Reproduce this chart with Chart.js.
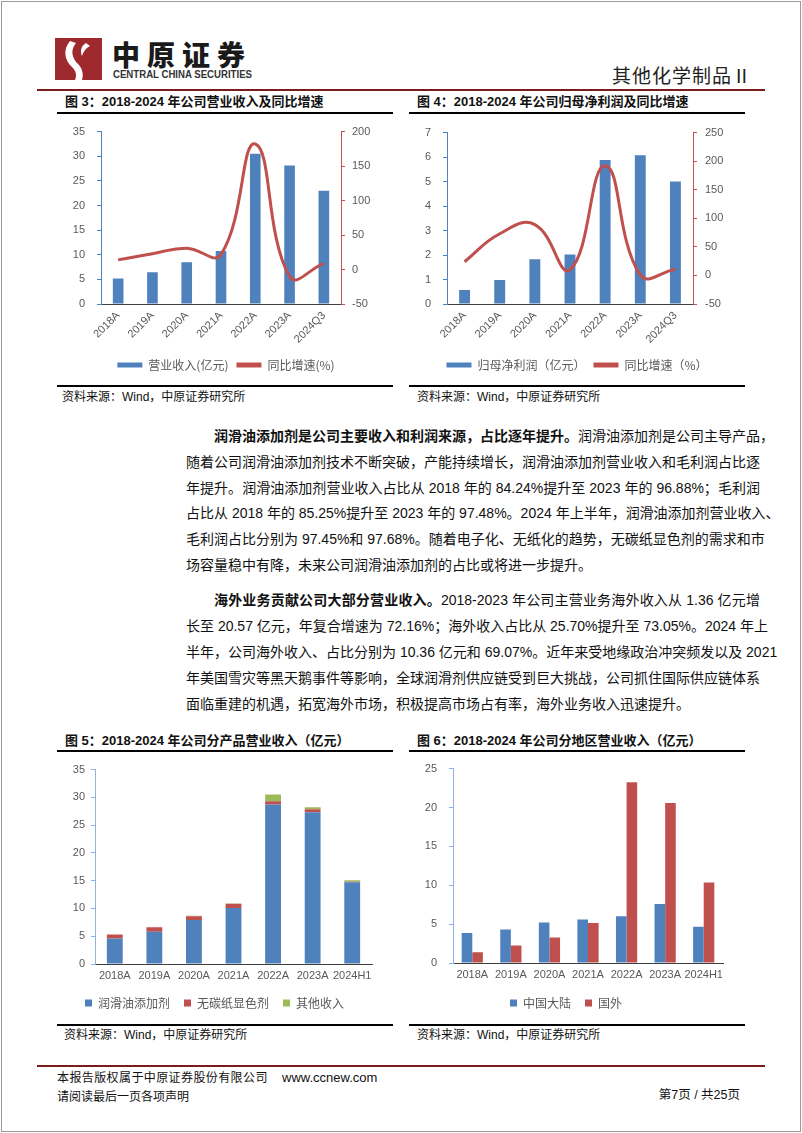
<!DOCTYPE html>
<html>
<head>
<meta charset="utf-8">
<script src="https://cdn.jsdelivr.net/npm/chart.js@4.4.1/dist/chart.umd.min.js"></script>
<style>
  body { margin: 0; background: #fff; }
  #page { position: relative; width: 802px; height: 1133px; overflow: hidden;
          font-family: "Liberation Sans", "Noto Sans CJK SC", sans-serif; color: #111; }
  .abs { position: absolute; white-space: nowrap; }
  .frame { position: absolute; left: 1px; top: 1px; width: 798px; height: 1129px; border: 1px solid #9a9a9a; }
  .title { position: absolute; font-weight: 700; font-size: 13px; line-height: 16px; white-space: nowrap; }
  .rule { position: absolute; height: 2px; background: #000; }
  .thin { position: absolute; height: 2px; background: #000; }
  .src { position: absolute; font-size: 12px; line-height: 14px; white-space: nowrap; color: #111; }
  .ln { position: absolute; left: 186px; width: 574px; font-size: 14px; line-height: 26px; height: 26px;
        white-space: nowrap; text-align: justify; text-align-last: justify; }
  .ln.first { left: 214px; width: 546px; }
  .ln.last { text-align: left; text-align-last: left; }
  .ln b { font-weight: 700; }
  canvas { position: absolute; }
</style>
</head>
<body>
<div id="page">
  <div class="frame"></div>

  <!-- header -->
  <svg class="abs" style="left:55px;top:38px" width="47" height="42">
    <rect width="47" height="42" fill="#9F2A2E"/>
    <path d="M15 3 C 8 11, 9 22, 17 29 C 21 33, 22 37, 20 42 L 27 42 C 29 36, 27 30, 23 26 C 17 20, 15 12, 21 5 Z" fill="#fff"/>
    <path d="M31 5 C 26 8, 25 13, 27 18 C 28 14, 31 10, 35 8 Z" fill="#fff"/>
  </svg>
  <div class="abs" style="left:112px;top:37px;font-family:'Noto Sans CJK SC';font-weight:900;font-size:28px;line-height:34px;letter-spacing:7px;color:#1a1a1a">中原证券</div>
  <svg class="abs" style="left:113px;top:68px" width="140" height="12">
    <text x="0" y="10" textLength="139" lengthAdjust="spacingAndGlyphs"
          font-family="Liberation Sans" font-weight="700" font-size="10" fill="#333">CENTRAL CHINA SECURITIES</text>
  </svg>
  <div class="abs" style="right:50px;top:62px;font-family:'Noto Sans CJK SC';font-size:19px;line-height:26px;letter-spacing:1px;color:#222">其他化学制品Ⅱ</div>
  <div class="abs" style="left:37px;top:89px;width:728px;height:2px;background:#7B1C1C"></div>

  <!-- top charts -->
  <div class="title" style="left:65px;top:94px">图 3：2018-2024 年公司营业收入及同比增速</div>
  <div class="rule" style="left:57px;top:112px;width:336px"></div>
  <canvas id="c3" width="338" height="268" style="left:57px;top:113px"></canvas>
  <div class="thin" style="left:57px;top:385px;width:336px"></div>
  <div class="src" style="left:62px;top:390px">资料来源：Wind，中原证券研究所</div>

  <div class="title" style="left:417px;top:94px">图 4：2018-2024 年公司归母净利润及同比增速</div>
  <div class="rule" style="left:409px;top:112px;width:336px"></div>
  <canvas id="c4" width="336" height="267" style="left:409px;top:114px"></canvas>
  <div class="thin" style="left:409px;top:385px;width:336px"></div>
  <div class="src" style="left:417px;top:390px">资料来源：Wind，中原证券研究所</div>

  <!-- body text -->
  <div class="ln first" style="top:423px"><b>润滑油添加剂是公司主要收入和利润来源，占比逐年提升。</b>润滑油添加剂是公司主导产品，</div>
  <div class="ln" style="top:449px">随着公司润滑油添加剂技术不断突破，产能持续增长，润滑油添加剂营业收入和毛利润占比逐</div>
  <div class="ln" style="top:475px">年提升。润滑油添加剂营业收入占比从 2018 年的 84.24%提升至 2023 年的 96.88%；毛利润</div>
  <div class="ln" style="top:500px">占比从 2018 年的 85.25%提升至 2023 年的 97.48%。2024 年上半年，润滑油添加剂营业收入、</div>
  <div class="ln" style="top:526px">毛利润占比分别为 97.45%和 97.68%。随着电子化、无纸化的趋势，无碳纸显色剂的需求和市</div>
  <div class="ln last" style="top:552px">场容量稳中有降，未来公司润滑油添加剂的占比或将进一步提升。</div>

  <div class="ln first" style="top:587px"><b>海外业务贡献公司大部分营业收入。</b>2018-2023 年公司主营业务海外收入从 1.36 亿元增</div>
  <div class="ln" style="top:613px">长至 20.57 亿元，年复合增速为 72.16%；海外收入占比从 25.70%提升至 73.05%。2024 年上</div>
  <div class="ln" style="top:639px">半年，公司海外收入、占比分别为 10.36 亿元和 69.07%。近年来受地缘政治冲突频发以及 2021</div>
  <div class="ln" style="top:665px">年美国雪灾等黑天鹅事件等影响，全球润滑剂供应链受到巨大挑战，公司抓住国际供应链体系</div>
  <div class="ln last" style="top:691px">面临重建的机遇，拓宽海外市场，积极提高市场占有率，海外业务收入迅速提升。</div>

  <!-- bottom charts -->
  <div class="title" style="left:65px;top:733px">图 5：2018-2024 年公司分产品营业收入（亿元）</div>
  <div class="rule" style="left:57px;top:750px;width:336px"></div>
  <canvas id="c5" width="338" height="262" style="left:57px;top:757px"></canvas>
  <div class="thin" style="left:57px;top:1024px;width:336px"></div>
  <div class="src" style="left:64px;top:1028px">资料来源：Wind，中原证券研究所</div>

  <div class="title" style="left:417px;top:733px">图 6：2018-2024 年公司分地区营业收入（亿元）</div>
  <div class="rule" style="left:409px;top:750px;width:336px"></div>
  <canvas id="c6" width="336" height="269" style="left:409px;top:750px"></canvas>
  <div class="thin" style="left:409px;top:1024px;width:336px"></div>
  <div class="src" style="left:417px;top:1028px">资料来源：Wind，中原证券研究所</div>

  <!-- footer -->
  <div class="abs" style="left:37px;top:1065px;width:728px;height:2px;background:#7B1C1C"></div>
  <div class="abs" style="left:57px;top:1070px;font-size:12px;line-height:16px;letter-spacing:0.4px">本报告版权属于中原证券股份有限公司</div>
  <div class="abs" style="left:282px;top:1070px;font-size:13px;line-height:16px">www.ccnew.com</div>
  <div class="abs" style="left:57px;top:1089px;font-size:12px;line-height:16px">请阅读最后一页各项声明</div>
  <div class="abs" style="right:62px;top:1087px;font-size:12.5px;line-height:16px">第7页 / 共25页</div>
</div>

<script>
'use strict';

// ---- data ----
const yearsQ3 = ['2018A', '2019A', '2020A', '2021A', '2022A', '2023A', '2024Q3'];
const yearsH1 = ['2018A', '2019A', '2020A', '2021A', '2022A', '2023A', '2024H1'];

const revenue    = [5.2, 6.45, 8.5, 10.75, 30.5, 28.1, 23.0];   // 亿元
const revenueYoy = [14, 23, 31, 22, 182, -10, 9];                // %
const profit     = [0.57, 0.98, 1.83, 2.02, 5.88, 6.07, 5.0];    // 亿元
const profitYoy  = [24, 73, 89, 10, 192, 1, 11];                 // %

const lubricant  = [4.6, 5.8, 7.9, 10.1, 28.7, 27.3, 14.7];
const paperDye   = [0.7, 0.8, 0.7, 0.75, 0.6, 0.55, 0.1];
const otherInc   = [0, 0.03, 0.1, 0.05, 1.2, 0.35, 0.3];

const mainland   = [3.85, 4.3, 5.2, 5.6, 6.0, 7.6, 4.65];
const overseas   = [1.38, 2.26, 3.27, 5.15, 23.24, 20.57, 10.36];

// ---- axis ranges ----
const revAxis   = { min: 0, max: 35, step: 5 };
const revYoyAx  = { min: -50, max: 200, step: 50 };
const profAxis  = { min: 0, max: 7, step: 1 };
const profYoyAx = { min: -50, max: 250, step: 50 };
const prodAxis  = { min: 0, max: 35, step: 5 };
const regAxis   = { min: 0, max: 25, step: 5 };

// ---- style helpers ----
const BLUE = '#4F81BD', RED = '#C0504D', GREEN = '#9BBB59';
const AXIS_BLUE = '#8EB4E3', AXIS_DARK = '#404040', TXT = '#595959';
const tickFont = { family: 'Liberation Sans', size: 11 };
const legFont = { family: 'Noto Sans CJK SC', size: 12 };

const fixW = (w) => (s) => { s.width = w; };
const fixH = (h) => (s) => { s.height = h; };

function legendOpts(boxW, boxH, pad) {
  return {
    position: 'bottom',
    labels: {
      boxWidth: boxW, boxHeight: boxH, padding: pad, color: TXT, font: legFont,
      sort: (a, b) => a.datasetIndex - b.datasetIndex,
      generateLabels: (c) => Chart.defaults.plugins.legend.labels.generateLabels(c)
        .map(l => ({ ...l, lineWidth: 0, strokeStyle: 'rgba(0,0,0,0)' }))
    }
  };
}

function yAxis(pos, ax, color, width, pad) {
  return {
    position: pos, min: ax.min, max: ax.max,
    ticks: { stepSize: ax.step, color: TXT, font: tickFont, padding: pad },
    grid: { drawOnChartArea: false, drawTicks: true, tickLength: 4, color },
    border: { color, width: 1 },
    afterFit: fixW(width)
  };
}

function xAxis(height, extra) {
  return {
    grid: { display: false, drawTicks: false }, border: { color: AXIS_DARK },
    ticks: { color: TXT, font: tickFont, autoSkip: false, ...extra },
    afterFit: fixH(height)
  };
}

// bars on the left axis, smoothed growth line on the right axis
function dualChart(id, labels, barLabel, bars, lineLabel, line, axL, axR, wL, wR, padL, padR) {
  return new Chart(document.getElementById(id), {
    data: {
      labels,
      datasets: [
        { type: 'bar', label: barLabel, data: bars, backgroundColor: BLUE,
          barPercentage: 0.31, categoryPercentage: 1, yAxisID: 'y', order: 2 },
        { type: 'line', label: lineLabel, data: line, borderColor: RED, backgroundColor: RED,
          borderWidth: 3, pointRadius: 0, tension: 0.45, yAxisID: 'y1', order: 1 }
      ]
    },
    options: {
      responsive: false, animation: false,
      layout: { padding: 0 },
      plugins: { legend: legendOpts(25, 5, 8), tooltip: { enabled: false } },
      scales: {
        x: xAxis(47, { minRotation: 45, maxRotation: 45, padding: 5 }),
        y: yAxis('left', axL, BLUE, wL, padL),
        y1: yAxis('right', axR, RED, wR, padR)
      }
    }
  });
}

// 图3
dualChart('c3', yearsQ3, '营业收入(亿元)', revenue, '同比增速(%)', revenueYoy,
  revAxis, revYoyAx, 44, 54, 12, 7);

// 图4
dualChart('c4', yearsQ3, '归母净利润（亿元）', profit, '同比增速（%）', profitYoy,
  profAxis, profYoyAx, 38, 52, 12, 8);

// 图5 stacked by product
new Chart(document.getElementById('c5'), {
  type: 'bar',
  data: {
    labels: yearsH1,
    datasets: [
      { label: '润滑油添加剂', data: lubricant, backgroundColor: BLUE },
      { label: '无碳纸显色剂', data: paperDye, backgroundColor: RED },
      { label: '其他收入', data: otherInc, backgroundColor: GREEN }
    ]
  },
  options: {
    responsive: false, animation: false,
    layout: { padding: { right: 23 } },
    datasets: { bar: { barPercentage: 0.4, categoryPercentage: 1 } },
    plugins: { legend: legendOpts(7, 7, 14), tooltip: { enabled: false } },
    scales: {
      x: { ...xAxis(19, { maxRotation: 0, padding: 5 }), stacked: true },
      y: { ...yAxis('left', prodAxis, AXIS_BLUE, 38, 6), stacked: true }
    }
  }
});

// 图6 by region
new Chart(document.getElementById('c6'), {
  type: 'bar',
  data: {
    labels: yearsH1,
    datasets: [
      { label: '中国大陆', data: mainland, backgroundColor: BLUE },
      { label: '国外', data: overseas, backgroundColor: RED }
    ]
  },
  options: {
    responsive: false, animation: false,
    layout: { padding: { right: 22 } },
    datasets: { bar: { barPercentage: 1, categoryPercentage: 0.55 } },
    plugins: { legend: legendOpts(7, 7, 14), tooltip: { enabled: false } },
    scales: {
      x: xAxis(20, { maxRotation: 0, padding: 5 }),
      y: yAxis('left', regAxis, AXIS_BLUE, 44, 12)
    }
  }
});
</script>
</body>
</html>
